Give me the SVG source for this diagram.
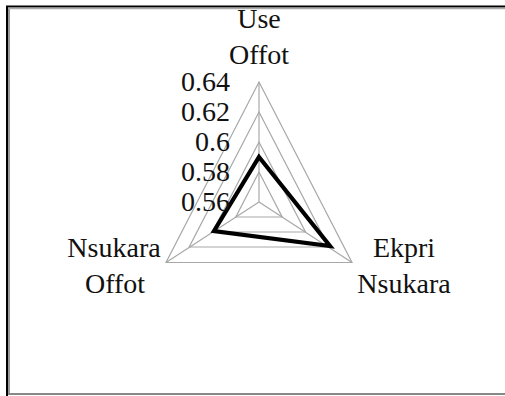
<svg xmlns="http://www.w3.org/2000/svg" width="505" height="396" viewBox="0 0 505 396">
<style>
text{font-family:'Liberation Serif','Tinos','DejaVu Serif',serif;font-size:28px;fill:#111}
.m{text-anchor:middle}
.e{text-anchor:end}
.g{fill:none;stroke:#a8a8a8;stroke-width:1.2}
.d{fill:none;stroke:#000;stroke-width:4.2;stroke-linejoin:miter}
</style>
<rect x="0" y="0" width="505" height="396" fill="#fff"/>
<g id="frame">
<line x1="7" y1="6" x2="7" y2="396" stroke="#000" stroke-width="2"/>
<line x1="9" y1="8" x2="9" y2="394" stroke="#999" stroke-width="2"/>
<line x1="6" y1="6.5" x2="505" y2="6.5" stroke="#000" stroke-width="2"/>
<line x1="8" y1="8.5" x2="505" y2="8.5" stroke="#aaa" stroke-width="1.5"/>
<line x1="8" y1="394" x2="505" y2="394" stroke="#888" stroke-width="2"/>
</g>
<g id="grid">
<polygon class="g" points="259,172 282.2,217 235.8,217"/>
<polygon class="g" points="259,142 305.5,232 212.5,232"/>
<polygon class="g" points="259,112 328.8,247 189.2,247"/>
<polygon class="g" points="259,82 352,262.5 166,262.5"/>
<line class="g" x1="259" y1="202" x2="259" y2="82"/>
<line class="g" x1="259" y1="202" x2="352" y2="262.5"/>
<line class="g" x1="259" y1="202" x2="166" y2="262.5"/>
</g>
<g id="series">
<polygon class="d" points="259,157 330,246 214,231"/>
</g>
<g id="labels">
<text class="m" x="259" y="28">Use</text>
<text class="m" x="259" y="64">Offot</text>
<text class="m" x="114" y="257">Nsukara</text>
<text class="m" x="115" y="293">Offot</text>
<text class="m" x="404" y="257">Ekpri</text>
<text class="m" x="404" y="293">Nsukara</text>
</g>
<g id="axis">
<text class="e" x="230" y="91">0.64</text>
<text class="e" x="230" y="121">0.62</text>
<text class="e" x="230" y="151">0.6</text>
<text class="e" x="230" y="181">0.58</text>
<text class="e" x="230" y="211">0.56</text>
</g>
</svg>
